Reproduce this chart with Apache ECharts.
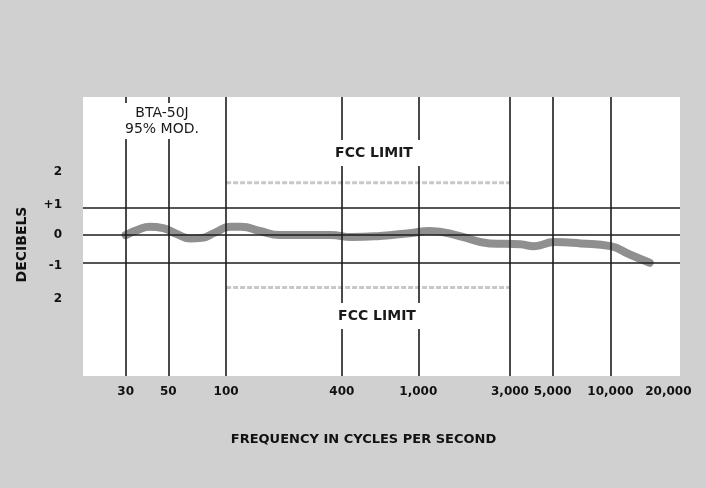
<!DOCTYPE html>
<html>
<head>
<meta charset="utf-8">
<script src="https://cdn.jsdelivr.net/npm/echarts@6/dist/echarts.min.js"></script>
<style>
  html, body { margin: 0; padding: 0; background: #d0d0d0; }
  #chart { width: 706px; height: 488px; }
</style>
</head>
<body>
<div id="chart"></div>
<script>
// Frequency axis: labelled frequencies and the ones that carry a grid line
const freqTickLabels = [30, 50, 100, 400, 1000, 3000, 5000, 10000, 20000];
const freqGridLines = [30, 50, 100, 400, 1000, 3000, 5000, 10000];

// Decibel axis: reference lines and printed scale labels
const dbGridLines = [1, 0, -1];
const dbLabelValues = [2.3, 1.1, 0, -1.1, -2.3];
const dbLabelTexts = ['2', '+1', '0', '-1', '2'];

// Measured response of the BTA-50J at 95% modulation
const responseFreq = [30, 35, 40, 47, 55, 65, 75, 88, 105, 120, 150, 190, 250, 350, 450, 630, 900, 1150, 1650, 2350, 3400, 4000, 5100, 7000, 10000, 12600, 16000];
const responseDb   = [0.0, 0.2, 0.3, 0.25, 0.05, -0.12, -0.1, 0.1, 0.3, 0.3, 0.15, 0.0, 0.0, 0.0, -0.07, -0.03, 0.07, 0.15, -0.04, -0.3, -0.33, -0.4, -0.25, -0.3, -0.4, -0.7, -1.0];

// FCC limit band
const fccLimitDb = [1.9, -1.9];
const fccLimitFreq = [100, 3000];

const chart = echarts.init(document.getElementById('chart'));

const boldFont = 'DejaVu Sans';

const limitSeries = fccLimitDb.map(function (db) {
  return {
    type: 'line',
    silent: true,
    symbol: 'none',
    z: 2,
    lineStyle: { color: '#c8c8c8', width: 3, type: [5, 2] },
    data: fccLimitFreq.map(function (f) { return [f, db]; })
  };
});

const option = {
  animation: false,
  backgroundColor: '#d0d0d0',
  grid: {
    left: 83, right: 26, top: 97, bottom: 112,
    show: true, backgroundColor: '#ffffff', borderWidth: 0
  },
  xAxis: {
    type: 'log',
    logBase: 10,
    min: 18,
    max: 23000,
    name: 'FREQUENCY IN CYCLES PER SECOND',
    nameLocation: 'middle',
    nameGap: 57,
    nameTextStyle: {
      fontFamily: boldFont, fontWeight: 'bold', fontSize: 13, color: '#111',
      padding: [0, 36, 0, 0]
    },
    axisLine: { show: false },
    axisTick: { show: false },
    splitLine: { show: false },
    axisLabel: {
      customValues: freqTickLabels,
      formatter: function (v) { return Number(v).toLocaleString('en-US'); },
      fontFamily: boldFont, fontWeight: 'bold', fontSize: 12, color: '#111',
      margin: 10
    }
  },
  yAxis: {
    type: 'value',
    min: -5.1,
    max: 5,
    name: 'DECIBELS',
    nameLocation: 'middle',
    nameGap: 54,
    nameRotate: 90,
    nameTextStyle: {
      fontFamily: boldFont, fontWeight: 'bold', fontSize: 14, color: '#111',
      padding: [0, 16, 0, 0]
    },
    axisLine: { show: false },
    axisTick: { show: false },
    splitLine: { show: false },
    axisLabel: {
      customValues: dbLabelValues,
      formatter: function (v) {
        const i = dbLabelValues.findIndex(function (d) { return Math.abs(d - v) < 1e-6; });
        return i >= 0 ? dbLabelTexts[i] : '';
      },
      fontFamily: boldFont, fontWeight: 'bold', fontSize: 12, color: '#111',
      margin: 21
    }
  },
  series: [
    {
      // grid lines of the chart paper
      type: 'line',
      silent: true,
      data: [],
      z: 1,
      markLine: {
        silent: true,
        symbol: 'none',
        label: { show: false },
        lineStyle: { color: '#1c1c1c', width: 1.6, type: 'solid' },
        data: freqGridLines.map(function (f) { return { xAxis: f }; })
          .concat(dbGridLines.map(function (d) { return { yAxis: d }; }))
      }
    }
  ].concat(limitSeries).concat([
    {
      type: 'line',
      silent: true,
      symbol: 'none',
      smooth: 0.5,
      z: 3,
      lineStyle: { color: '#8f8f8f', width: 8, cap: 'round' },
      data: responseFreq.map(function (f, i) { return [f, responseDb[i]]; })
    }
  ]),
  graphic: [
    {
      type: 'text', x: 162, y: 103, z: 100,
      style: {
        text: 'BTA-50J\n95% MOD.',
        align: 'center', verticalAlign: 'top',
        fontFamily: 'DejaVu Sans', fontSize: 14, lineHeight: 16,
        fill: '#1a1a1a', backgroundColor: '#ffffff', padding: [2, 6]
      }
    },
    {
      type: 'text', x: 374, y: 153, z: 100,
      style: {
        text: 'FCC LIMIT',
        align: 'center', verticalAlign: 'middle',
        fontFamily: boldFont, fontWeight: 'bold', fontSize: 14,
        fill: '#1a1a1a', backgroundColor: '#ffffff', padding: [6, 8]
      }
    },
    {
      type: 'text', x: 377, y: 316, z: 100,
      style: {
        text: 'FCC LIMIT',
        align: 'center', verticalAlign: 'middle',
        fontFamily: boldFont, fontWeight: 'bold', fontSize: 14,
        fill: '#1a1a1a', backgroundColor: '#ffffff', padding: [6, 8]
      }
    }
  ]
};

chart.setOption(option);
</script>
</body>
</html>
